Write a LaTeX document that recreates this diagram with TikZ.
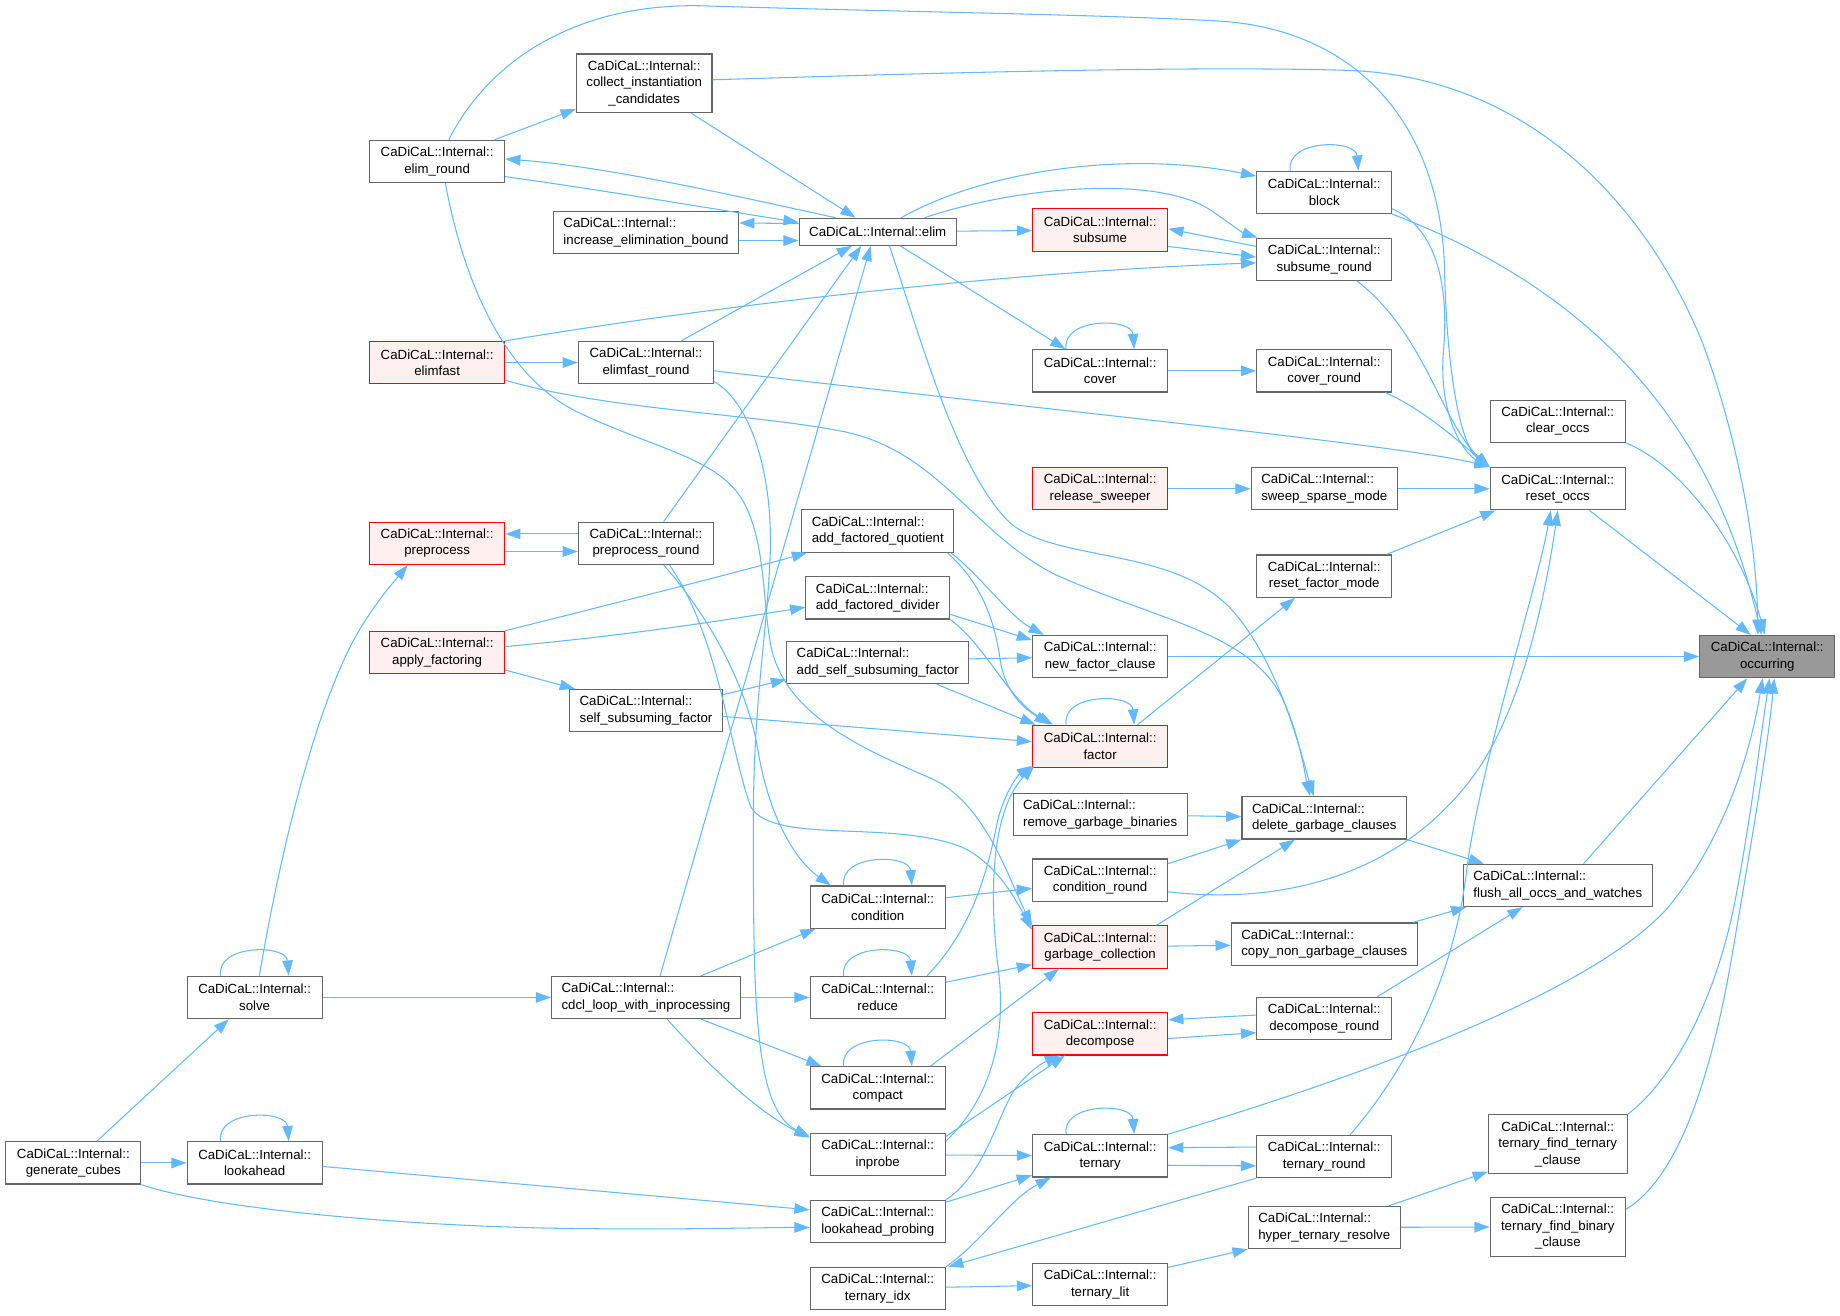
\documentclass[tikz,border=0pt]{standalone}
\usepackage{fontspec}
\setmainfont{Liberation Sans}
\usepackage{tikz}
\usetikzlibrary{arrows.meta}
\definecolor{edgeblue}{HTML}{63B8FF}
\definecolor{nodegray}{HTML}{666666}
\definecolor{truncfill}{HTML}{FFF0F0}
\definecolor{rootfill}{HTML}{999999}
\newcommand\fnfont{\fontsize{11.3}{14}\selectfont}
\newcommand\callloop[1]{\draw[callline] ([xshift=-29pt]#1.north) .. controls +(-4,-27) and +(-2,-27) .. ([xshift=29pt]#1.north);}

\begin{document}
\begin{tikzpicture}[x=1pt, y=-1pt,
  fn/.style={draw=nodegray, fill=white, line width=1pt, inner xsep=8.5pt, inner ysep=2pt, minimum width=115pt, minimum height=36pt, align=center, font=\fnfont},
  fnl/.style={fn, align=left},
  truncfn/.style={fn, draw=red, fill=truncfill},
  rootfn/.style={fn, fill=rootfill},
  callline/.style={draw=edgeblue, line width=0.9pt, -{Triangle[length=13pt,width=9pt]}}]
\useasboundingbox (0,0) rectangle (1568,1121);
\node[fn, minimum height=50pt] (collect) at (549,71) {CaDiCaL::Internal::\\collect\_instantiation\\\_candidates};
\node[fn] (elimround) at (372.5,137.5) {CaDiCaL::Internal::\\elim\_round};
\node[fnl] (increase) at (550.5,198) {CaDiCaL::Internal::\\increase\_elimination\_bound};
\node[fn, minimum height=23pt] (elim) at (748,197.5) {CaDiCaL::Internal::elim};
\node[truncfn] (subsume) at (937.5,196) {CaDiCaL::Internal::\\subsume};
\node[fn] (block) at (1128.5,164) {CaDiCaL::Internal::\\block};
\node[fn] (subround) at (1128.5,221) {CaDiCaL::Internal::\\subsume\_round};
\node[truncfn] (elimfast) at (372.5,309) {CaDiCaL::Internal::\\elimfast};
\node[fn] (elimfastround) at (550.5,309) {CaDiCaL::Internal::\\elimfast\_round};
\node[fn] (cover) at (937.5,316) {CaDiCaL::Internal::\\cover};
\node[fn] (coverround) at (1128.5,316) {CaDiCaL::Internal::\\cover\_round};
\node[fn] (clearoccs) at (1327.5,359) {CaDiCaL::Internal::\\clear\_occs};
\node[truncfn] (release) at (937.5,416.5) {CaDiCaL::Internal::\\release\_sweeper};
\node[fnl] (sweep) at (1128.5,416.5) {CaDiCaL::Internal::\\sweep\_sparse\_mode};
\node[fn] (resetoccs) at (1327.5,416.5) {CaDiCaL::Internal::\\reset\_occs};
\node[truncfn] (preprocess) at (372.5,463) {CaDiCaL::Internal::\\preprocess};
\node[fn] (preround) at (550.5,463) {CaDiCaL::Internal::\\preprocess\_round};
\node[fnl] (addquot) at (748,452.5) {CaDiCaL::Internal::\\add\_factored\_quotient};
\node[fnl] (adddiv) at (748,509.5) {CaDiCaL::Internal::\\add\_factored\_divider};
\node[fn] (resetfm) at (1128.5,491) {CaDiCaL::Internal::\\reset\_factor\_mode};
\node[truncfn] (applyfact) at (372.5,556) {CaDiCaL::Internal::\\apply\_factoring};
\node[fnl] (addself) at (748,564.5) {CaDiCaL::Internal::\\add\_self\_subsuming\_factor};
\node[fn] (newfactor) at (937.5,559.5) {CaDiCaL::Internal::\\new\_factor\_clause};
\node[rootfn] (occurring) at (1506,559.5) {CaDiCaL::Internal::\\occurring};
\node[fnl] (selfsub) at (550.5,605.5) {CaDiCaL::Internal::\\self\_subsuming\_factor};
\node[truncfn] (factor) at (937.5,636) {CaDiCaL::Internal::\\factor};
\node[fnl] (removegb) at (937.5,694) {CaDiCaL::Internal::\\remove\_garbage\_binaries};
\node[fnl] (delgc) at (1128.5,697) {CaDiCaL::Internal::\\delete\_garbage\_clauses};
\node[fn] (condround) at (937.5,750) {CaDiCaL::Internal::\\condition\_round};
\node[fnl] (flush) at (1327.5,754.5) {CaDiCaL::Internal::\\flush\_all\_occs\_and\_watches};
\node[fn] (condition) at (748,773) {CaDiCaL::Internal::\\condition};
\node[truncfn] (gc) at (937.5,807) {CaDiCaL::Internal::\\garbage\_collection};
\node[fnl] (copyngc) at (1128.5,804.5) {CaDiCaL::Internal::\\copy\_non\_garbage\_clauses};
\node[fn] (solve) at (217,850) {CaDiCaL::Internal::\\solve};
\node[fnl] (cdcl) at (550.5,850) {CaDiCaL::Internal::\\cdcl\_loop\_with\_inprocessing};
\node[fn] (reduce) at (748,850) {CaDiCaL::Internal::\\reduce};
\node[truncfn] (decompose) at (937.5,881) {CaDiCaL::Internal::\\decompose};
\node[fn] (decround) at (1128.5,868) {CaDiCaL::Internal::\\decompose\_round};
\node[fn] (compact) at (748,927) {CaDiCaL::Internal::\\compact};
\node[fn, minimum height=50pt] (tftc) at (1327.5,975) {CaDiCaL::Internal::\\ternary\_find\_ternary\\\_clause};
\node[fn] (gencubes) at (62.5,991) {CaDiCaL::Internal::\\generate\_cubes};
\node[fn] (lookahead) at (217,991) {CaDiCaL::Internal::\\lookahead};
\node[fn] (inprobe) at (748,984) {CaDiCaL::Internal::\\inprobe};
\node[fn] (ternary) at (937.5,985) {CaDiCaL::Internal::\\ternary};
\node[fn] (ternround) at (1128.5,985.5) {CaDiCaL::Internal::\\ternary\_round};
\node[fn, minimum height=50pt] (tfbc) at (1327.5,1045.5) {CaDiCaL::Internal::\\ternary\_find\_binary\\\_clause};
\node[fn] (laprobing) at (748,1041) {CaDiCaL::Internal::\\lookahead\_probing};
\node[fnl] (hyper) at (1128.5,1046) {CaDiCaL::Internal::\\hyper\_ternary\_resolve};
\node[fn] (ternidx) at (748,1098) {CaDiCaL::Internal::\\ternary\_idx};
\node[fn] (ternlit) at (937.5,1094.5) {CaDiCaL::Internal::\\ternary\_lit};
\draw[callline] ([xshift=10pt]elimround.north) .. controls (420,45) and (500,2) .. (600,5) .. controls (760,10) and (930,12) .. (1040,18) .. controls (1160,26) and (1228,110) .. (1231,230) .. controls (1233,320) and (1245,380) .. (resetoccs.north west);
\draw[callline] ([yshift=3pt]collect.east) .. controls (800,62) and (1020,56) .. (1150,60) .. controls (1300,66) and (1400,170) .. (1450,290) .. controls (1480,370) and (1497,460) .. ([xshift=-8pt]occurring.north);
\draw[callline] (elimround) -- (collect);
\draw[callline] (collect) -- (elim);
\draw[callline] ([xshift=-36pt]elim.north) .. controls (640,170) and (520,142) .. ([yshift=2pt]elimround.east);
\draw[callline] ([yshift=-13pt]elimround.east) .. controls (520,163) and (620,180) .. ([yshift=8pt]elim.west);
\draw[callline] ([yshift=7pt]elim.west) -- ([yshift=8pt]increase.east);
\draw[callline] ([yshift=-7pt]increase.east) -- ([yshift=-7.5pt]elim.west);
\draw[callline] (elim) -- (subsume);
\draw[callline] ([xshift=20pt]elim.north) .. controls (840,145) and (960,128) .. ([yshift=14pt]block.west);
\draw[callline] ([xshift=40pt]elim.north) .. controls (870,158) and (985,150) .. (1030,178) .. controls (1045,188) and (1058,198) .. ([xshift=1pt]subround.north west);
\draw[callline] ([yshift=11pt]subround.west) -- ([yshift=1pt]subsume.east);
\draw[callline] ([yshift=-14pt]subsume.east) -- ([yshift=2pt]subround.west);
\draw[callline] (elimfast.north east) .. controls (600,262) and (850,232) .. ([yshift=-3pt]subround.west);
\callloop{block}
\draw[callline] ([yshift=-14pt]block.east) .. controls (1225,195) and (1235,245) .. (1230,300) .. controls (1226,350) and (1245,385) .. (resetoccs.north west);
\draw[callline] (block.south east) .. controls (1310,230) and (1450,320) .. ([xshift=-5pt]occurring.north);
\draw[callline] ([xshift=28pt]subround.south) .. controls (1215,285) and (1228,360) .. (resetoccs.north west);
\draw[callline] (elim) -- (cover);
\callloop{cover}
\draw[callline] (cover) -- (coverround);
\draw[callline] ([xshift=52pt]coverround.south) .. controls (1215,350) and (1245,378) .. (resetoccs.north west);
\draw[callline] (elimfast) -- (elimfastround);
\draw[callline] ([xshift=30pt]elimfastround.north) -- ([xshift=-22pt]elim.south);
\draw[callline] ([yshift=-7pt]elimfastround.east) .. controls (900,350) and (1200,380) .. (resetoccs.north west);
\draw[callline] ([yshift=-15pt]elimfast.east) .. controls (520,350) and (640,352) .. (720,368) .. controls (800,385) and (830,455) .. (900,490) .. controls (990,530) and (1070,540) .. (1095,600) .. controls (1108,630) and (1112,660) .. ([xshift=-12pt]delgc.north);
\draw[callline] ([xshift=10pt]elim.south) .. controls (785,290) and (815,400) .. (860,445) .. controls (900,480) and (1000,465) .. (1050,520) .. controls (1090,565) and (1108,640) .. ([xshift=-9pt]delgc.north);
\draw[callline] ([xshift=7pt]elimround.south) .. controls (395,240) and (430,322) .. (494,352) .. controls (560,383) and (610,390) .. (632,425) .. controls (652,458) and (650,510) .. (656,545) .. controls (665,610) and (740,640) .. (795,664) .. controls (840,685) and (860,750) .. (gc.north west);
\draw[callline] ([yshift=-16pt]elimfastround.east) .. controls (642,345) and (660,410) .. (656,480) .. controls (653,545) and (642,600) .. (642,700) .. controls (642,850) and (642,945) .. ([yshift=-3pt]inprobe.north west);
\draw[callline] ([yshift=8pt]preround.west) -- ([yshift=8pt]preprocess.east);
\draw[callline] ([yshift=-7pt]preprocess.east) -- ([yshift=-7pt]preround.west);
\draw[callline] ([xshift=15pt]preround.north) -- ([xshift=-14pt]elim.south);
\draw[callline] ([xshift=4pt]solve.north) .. controls (240,720) and (268,610) .. (300,548) .. controls (315,520) and (332,500) .. ([xshift=-25pt]preprocess.south);
\draw[callline] (applyfact.north east) .. controls (520,515) and (620,490) .. ([xshift=5pt]addquot.south west);
\draw[callline] ([yshift=5pt]applyfact.east) .. controls (540,541) and (620,528) .. ([yshift=-8pt]adddiv.west);
\draw[callline] ([yshift=-15pt]applyfact.east) -- ([xshift=5pt]selfsub.north west);
\draw[callline] ([yshift=-5pt]selfsub.north east) -- ([yshift=4pt]addself.south west);
\draw[callline] ([yshift=3pt]addself.east) -- ([yshift=-1pt]newfactor.west);
\draw[callline] ([yshift=-14pt]adddiv.east) -- ([yshift=14pt]newfactor.west);
\draw[callline] ([xshift=-3pt]addquot.south east) .. controls (835,490) and (860,525) .. ([xshift=10pt]newfactor.north west);
\draw[callline] ([xshift=-6pt]addquot.south east) .. controls (840,500) and (848,535) .. (852,560) .. controls (856,592) and (875,605) .. ([xshift=15pt]factor.north west);
\draw[callline] (adddiv.south east) .. controls (840,550) and (860,597) .. ([xshift=18pt]factor.north west);
\draw[callline] ([xshift=50pt]addself.south) -- ([xshift=3pt]factor.north west);
\draw[callline] ([yshift=-5pt]selfsub.east) -- ([yshift=4pt]factor.west);
\callloop{factor}
\draw[callline] ([xshift=32pt]factor.north) -- ([xshift=-25pt]resetfm.south);
\draw[callline] (newfactor) -- (occurring);
\draw[callline] ([xshift=-5pt]resetfm.north east) -- ([xshift=5pt]resetoccs.south west);
\draw[callline] (release) -- (sweep);
\draw[callline] (sweep) -- (resetoccs);
\draw[callline] (clearoccs.south east) .. controls (1430,395) and (1482,460) .. ([xshift=-2pt]occurring.north);
\draw[callline] ([xshift=27pt]resetoccs.south) -- ([xshift=-14pt]occurring.north);
\draw[callline] (removegb) -- (delgc);
\draw[callline] ([yshift=14pt]condround.east) -- (delgc.south west);
\draw[callline] ([xshift=-10pt]gc.north east) -- ([xshift=-25pt]delgc.south);
\draw[callline] (delgc.south east) -- ([xshift=18pt]flush.north west);
\draw[callline] ([xshift=-4pt]copyngc.north east) -- ([xshift=3pt]flush.south west);
\draw[callline] ([xshift=45pt]decround.north) -- ([xshift=-30pt]flush.south);
\draw[callline] ([xshift=22pt]flush.north) -- ([xshift=-17pt]occurring.south);
\draw[callline] ([yshift=-10pt]condround.east) .. controls (1100,772) and (1200,742) .. (1260,655) .. controls (1300,595) and (1318,500) .. (resetoccs.south);
\draw[callline] ([xshift=22pt]ternround.north) .. controls (1200,910) and (1240,830) .. (1250,740) .. controls (1262,650) and (1310,500) .. ([xshift=-6pt]resetoccs.south);
\draw[callline] (gc) -- (copyngc);
\draw[callline] ([yshift=8pt]condition.east) -- ([yshift=-7pt]condround.west);
\callloop{condition}
\callloop{reduce}
\draw[callline] ([yshift=13pt]reduce.east) -- ([yshift=-15pt]gc.west);
\draw[callline] ([xshift=42pt]reduce.north) .. controls (830,790) and (842,740) .. (850,700) .. controls (856,675) and (868,660) .. ([yshift=2pt]factor.south west);
\callloop{compact}
\draw[callline] ([xshift=45pt]compact.north) -- ([xshift=-35pt]gc.south);
\draw[callline] ([xshift=47pt]cdcl.north) -- ([xshift=5pt]condition.south west);
\draw[callline] (cdcl) -- (reduce);
\draw[callline] ([xshift=47pt]cdcl.south) -- ([xshift=10pt]compact.north west);
\draw[callline] ([xshift=18pt]cdcl.south) .. controls (610,915) and (650,950) .. ([yshift=-4pt]inprobe.north west);
\draw[callline] ([xshift=12pt]cdcl.north) -- ([xshift=-6pt]elim.south);
\draw[callline] (solve) -- (cdcl);
\callloop{solve}
\draw[callline] ([xshift=20pt]gencubes.north) -- ([xshift=-22pt]solve.south);
\draw[callline] (gencubes) -- (lookahead);
\callloop{lookahead}
\draw[callline] ([yshift=-3pt]lookahead.east) -- ([yshift=10pt]laprobing.west);
\draw[callline] (gencubes.south east) .. controls (180,1030) and (350,1046) .. (500,1047) .. controls (580,1048) and (650,1046) .. ([yshift=-5pt]laprobing.west);
\draw[callline] ([yshift=-3pt]inprobe.north east) -- ([xshift=-30pt]decompose.south);
\draw[callline] (inprobe) -- (ternary);
\draw[callline] ([yshift=-7pt]inprobe.north east) .. controls (840,940) and (860,890) .. (850,820) .. controls (843,760) and (845,690) .. ([xshift=2pt,yshift=2pt]factor.south west);
\draw[callline] (laprobing.north east) .. controls (840,1000) and (850,950) .. (865,928) .. controls (877,912) and (890,905) .. ([xshift=-34pt]decompose.south);
\draw[callline] ([yshift=-2pt]laprobing.north east) -- ([yshift=2pt]ternary.south west);
\draw[callline] (ternidx.north east) .. controls (835,1060) and (860,1022) .. ([xshift=-42pt]ternary.south);
\draw[callline] (ternround.south west) -- ([xshift=2pt]ternidx.north east);
\draw[callline] (ternary.north east) .. controls (1150,920) and (1350,850) .. (1420,775) .. controls (1470,715) and (1492,640) .. ([xshift=-4pt]occurring.south);
\callloop{ternary}
\draw[callline] ([yshift=8pt]ternround.west) -- ([yshift=7pt]ternary.east);
\draw[callline] ([yshift=-8pt]ternary.east) -- ([yshift=-8pt]ternround.west);
\draw[callline] (ternidx) -- (ternlit);
\draw[callline] ([yshift=-4pt]ternlit.north east) -- (hyper.south west);
\draw[callline] ([xshift=-10pt]hyper.north east) -- ([yshift=2pt]tftc.south west);
\draw[callline] (hyper) -- (tfbc);
\draw[callline] (tftc.north east) .. controls (1420,925) and (1462,860) .. (1480,760) .. controls (1493,690) and (1500,630) .. ([xshift=2pt]occurring.south);
\draw[callline] ([yshift=15pt]tfbc.east) .. controls (1420,1010) and (1452,950) .. (1475,820) .. controls (1492,720) and (1506,640) .. ([xshift=6pt]occurring.south);
\draw[callline] ([yshift=3pt]decround.west) -- ([yshift=12pt]decompose.east);
\draw[callline] ([yshift=-4pt]decompose.east) -- ([yshift=-12pt]decround.west);
\draw[callline] ([xshift=15pt]preround.south) .. controls (600,520) and (636,580) .. (646,640) .. controls (656,700) and (680,735) .. ([xshift=-40pt]condition.north);
\draw[callline] ([xshift=20pt]preround.south) .. controls (612,540) and (622,640) .. (640,688) .. controls (660,720) and (760,698) .. (820,722) .. controls (848,735) and (865,765) .. ([yshift=-4pt]gc.north west);
\end{tikzpicture}
\end{document}
